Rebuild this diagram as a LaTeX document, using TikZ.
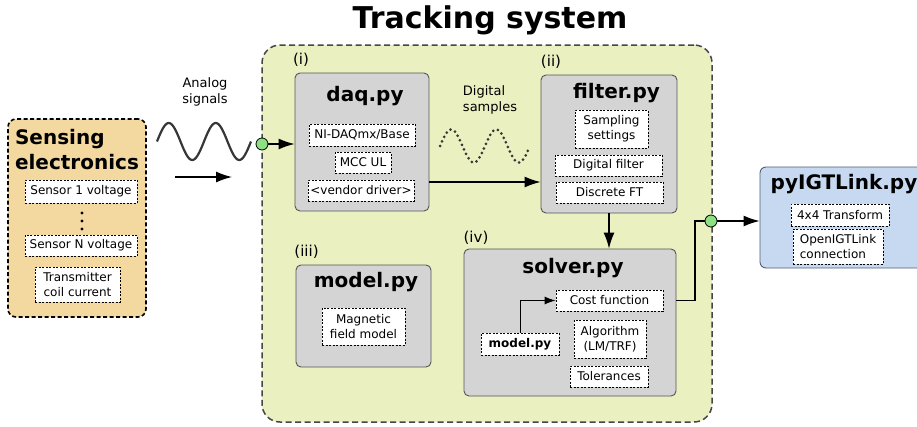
\documentclass[tikz,border=0pt]{standalone}
\usepackage{fontspec}
\setmainfont{DejaVu Sans}
\usetikzlibrary{arrows.meta,positioning}
\definecolor{trackfill}{RGB}{234,240,192}
\definecolor{trackline}{RGB}{70,70,70}
\definecolor{sensefill}{RGB}{243,217,160}
\definecolor{modfill}{RGB}{212,212,212}
\definecolor{modline}{RGB}{85,85,85}
\definecolor{igtfill}{RGB}{198,217,241}
\definecolor{igtline}{RGB}{80,95,115}
\definecolor{jointgreen}{RGB}{140,225,130}
\definecolor{wavegray}{RGB}{55,55,55}
\tikzset{
	module/.style={rectangle, rounded corners=5pt, draw=modline, fill=modfill, line width=0.9pt},
	item/.style={rectangle, draw=black, fill=white, dash pattern=on 2pt off 1.5pt, line width=0.8pt, inner sep=0pt, align=center, font=\fontsize{12}{15}\selectfont},
	modtitle/.style={font=\bfseries\fontsize{20}{25}\selectfont},
	tag/.style={font=\fontsize{13}{16}\selectfont},
	conn/.style={line width=1.3pt, -{Latex[length=16pt,width=11pt]}},
	wire/.style={line width=1.3pt},
	joint/.style={circle, draw=black, fill=jointgreen, minimum size=12pt, inner sep=0pt, line width=0.8pt}
}
\begin{document}
\begin{tikzpicture}[x=1pt, y=-1pt]
	\clip (0,0) rectangle (917,426);
	\fill[white] (0,0) rectangle (917,426);

	% big frame
	\node[rectangle, rounded corners=18pt, draw=trackline, fill=trackfill, line width=1.5pt, dash pattern=on 6pt off 3.5pt, minimum width=450pt, minimum height=377pt] (track) at (487,233.5) {};
	\node[font=\bfseries\fontsize{30}{36}\selectfont] (tracktitle) at (490,20) {Tracking system};

	% sensing electronics
	\node[rectangle, rounded corners=8pt, draw=black, fill=sensefill, line width=1.6pt, dash pattern=on 4pt off 2.5pt, minimum width=138pt, minimum height=198pt] (sense) at (77,218) {};
	\node[modtitle, align=left] (sensetitle) at (77,150) {Sensing\\electronics};
	\node[item, minimum width=112pt, minimum height=23pt] (s1) at (81,191.5) {Sensor 1 voltage};
	\node[item, minimum width=112pt, minimum height=21pt] (sN) at (81,245.5) {Sensor N voltage};
	\node[item, minimum width=85pt, minimum height=35pt] (tx) at (77.5,284.5) {Transmitter\\coil current};
	\foreach \y in {213,221,229}
		\fill (82,\y) circle (1.7pt);

	% analog input
	\node[tag, align=center] (analog) at (205,92) {Analog\\signals};
	\draw[wavegray, line width=2.2pt] plot[domain=157:251, samples=90, smooth] (\x, {141.5-18.5*sin((\x-157)/47*360)});
	\coordinate (a1) at (175,177);
	\coordinate (a2) at (232,177);
	\draw[conn] (a1) -- (a2);
	\node[joint] (in1) at (262,144) {};

	% (i) daq
	\node[tag, font=\fontsize{15}{18}\selectfont] (lbl1) at (301,60) {(i)};
	\node[module, minimum width=134pt, minimum height=138pt] (daq) at (362,142) {};
	\node[modtitle] (daqtitle) at (365,96) {daq.py};
	\node[item, minimum width=106pt, minimum height=22pt] (ni) at (362,135) {NI-DAQmx/Base};
	\node[item, minimum width=56pt, minimum height=21pt] (mcc) at (363,162.5) {MCC UL};
	\node[item, minimum width=106pt, minimum height=21pt] (vd) at (361,190.5) {<vendor driver>};
	\draw[conn] (in1.east) -- (in1 -| daq.west);

	% digital samples
	\node[tag, align=left] (digital) at (490,100) {Digital\\samples};
	\draw[wavegray, line width=3pt, dash pattern=on 0pt off 5pt, line cap=round] plot[domain=440:529, samples=90, smooth] (\x, {146-16.5*sin((\x-440)/45*360)});

	% (ii) filter
	\node[tag, font=\fontsize{15}{18}\selectfont] (lbl2) at (551,62) {(ii)};
	\node[module, minimum width=136pt, minimum height=138pt] (filt) at (609,144) {};
	\node[modtitle] (filttitle) at (616.5,93) {filter.py};
	\node[item, minimum width=73pt, minimum height=38pt] (samp) at (611.5,129) {Sampling\\settings};
	\node[item, minimum width=107pt, minimum height=21pt] (dfilt) at (608.5,165.5) {Digital filter};
	\node[item, minimum width=107pt, minimum height=21pt] (dft) at (609.5,192.5) {Discrete FT};
	\draw[conn] ([yshift=-40pt]daq.east) -- ([yshift=-40pt]daq.east -| filt.west);

	% (iii) model
	\node[tag, font=\fontsize{15}{18}\selectfont] (lbl3) at (306.5,252) {(iii)};
	\node[module, minimum width=135pt, minimum height=102pt] (model) at (363.5,316) {};
	\node[modtitle] (modeltitle) at (366,282) {model.py};
	\node[item, minimum width=83pt, minimum height=37pt] (mag) at (363.5,326.5) {Magnetic\\field model};

	% (iv) solver
	\node[tag, font=\fontsize{15}{18}\selectfont] (lbl4) at (476,238) {(iv)};
	\node[module, minimum width=212pt, minimum height=147pt] (solver) at (570,322.5) {};
	\node[modtitle] (solvertitle) at (573,268) {solver.py};
	\node[item, minimum width=107pt, minimum height=21pt] (cost) at (609.5,300.5) {Cost function};
	\node[item, minimum width=72pt, minimum height=38pt] (alg) at (610,339) {Algorithm\\(LM/TRF)};
	\node[item, minimum width=78pt, minimum height=21pt] (tol) at (609,376.5) {Tolerances};
	\node[item, minimum width=78pt, minimum height=22pt, font=\bfseries\fontsize{12}{15}\selectfont] (mod2) at (520,344) {model.py};
	\draw[conn] (filt.south) -- (filt.south |- solver.north);
	\draw[line width=1pt, -{Latex[length=11pt,width=8pt]}] (mod2.north) |- (cost.west);

	% output
	\node[joint] (out) at (711,221) {};
	\coordinate (bend) at (695,221);
	\draw[wire] (solver.east |- cost) -| (bend) -- (out.west);

	% pyIGTLink
	\node[rectangle, rounded corners=6pt, draw=igtline, fill=igtfill, line width=0.9pt, minimum width=170pt, minimum height=101pt] (igt) at (845,217.5) {};
	\node[modtitle] (igttitle) at (844,184) {pyIGTLink.py};
	\node[item, minimum width=98pt, minimum height=22pt] (tf) at (840,215) {4x4 Transform};
	\node[item, minimum width=90pt, minimum height=35pt, align=left] (oigt) at (838,246.5) {OpenIGTLink\\connection};
	\draw[conn] (out.east) -- (out -| igt.west);
\end{tikzpicture}
\end{document}
